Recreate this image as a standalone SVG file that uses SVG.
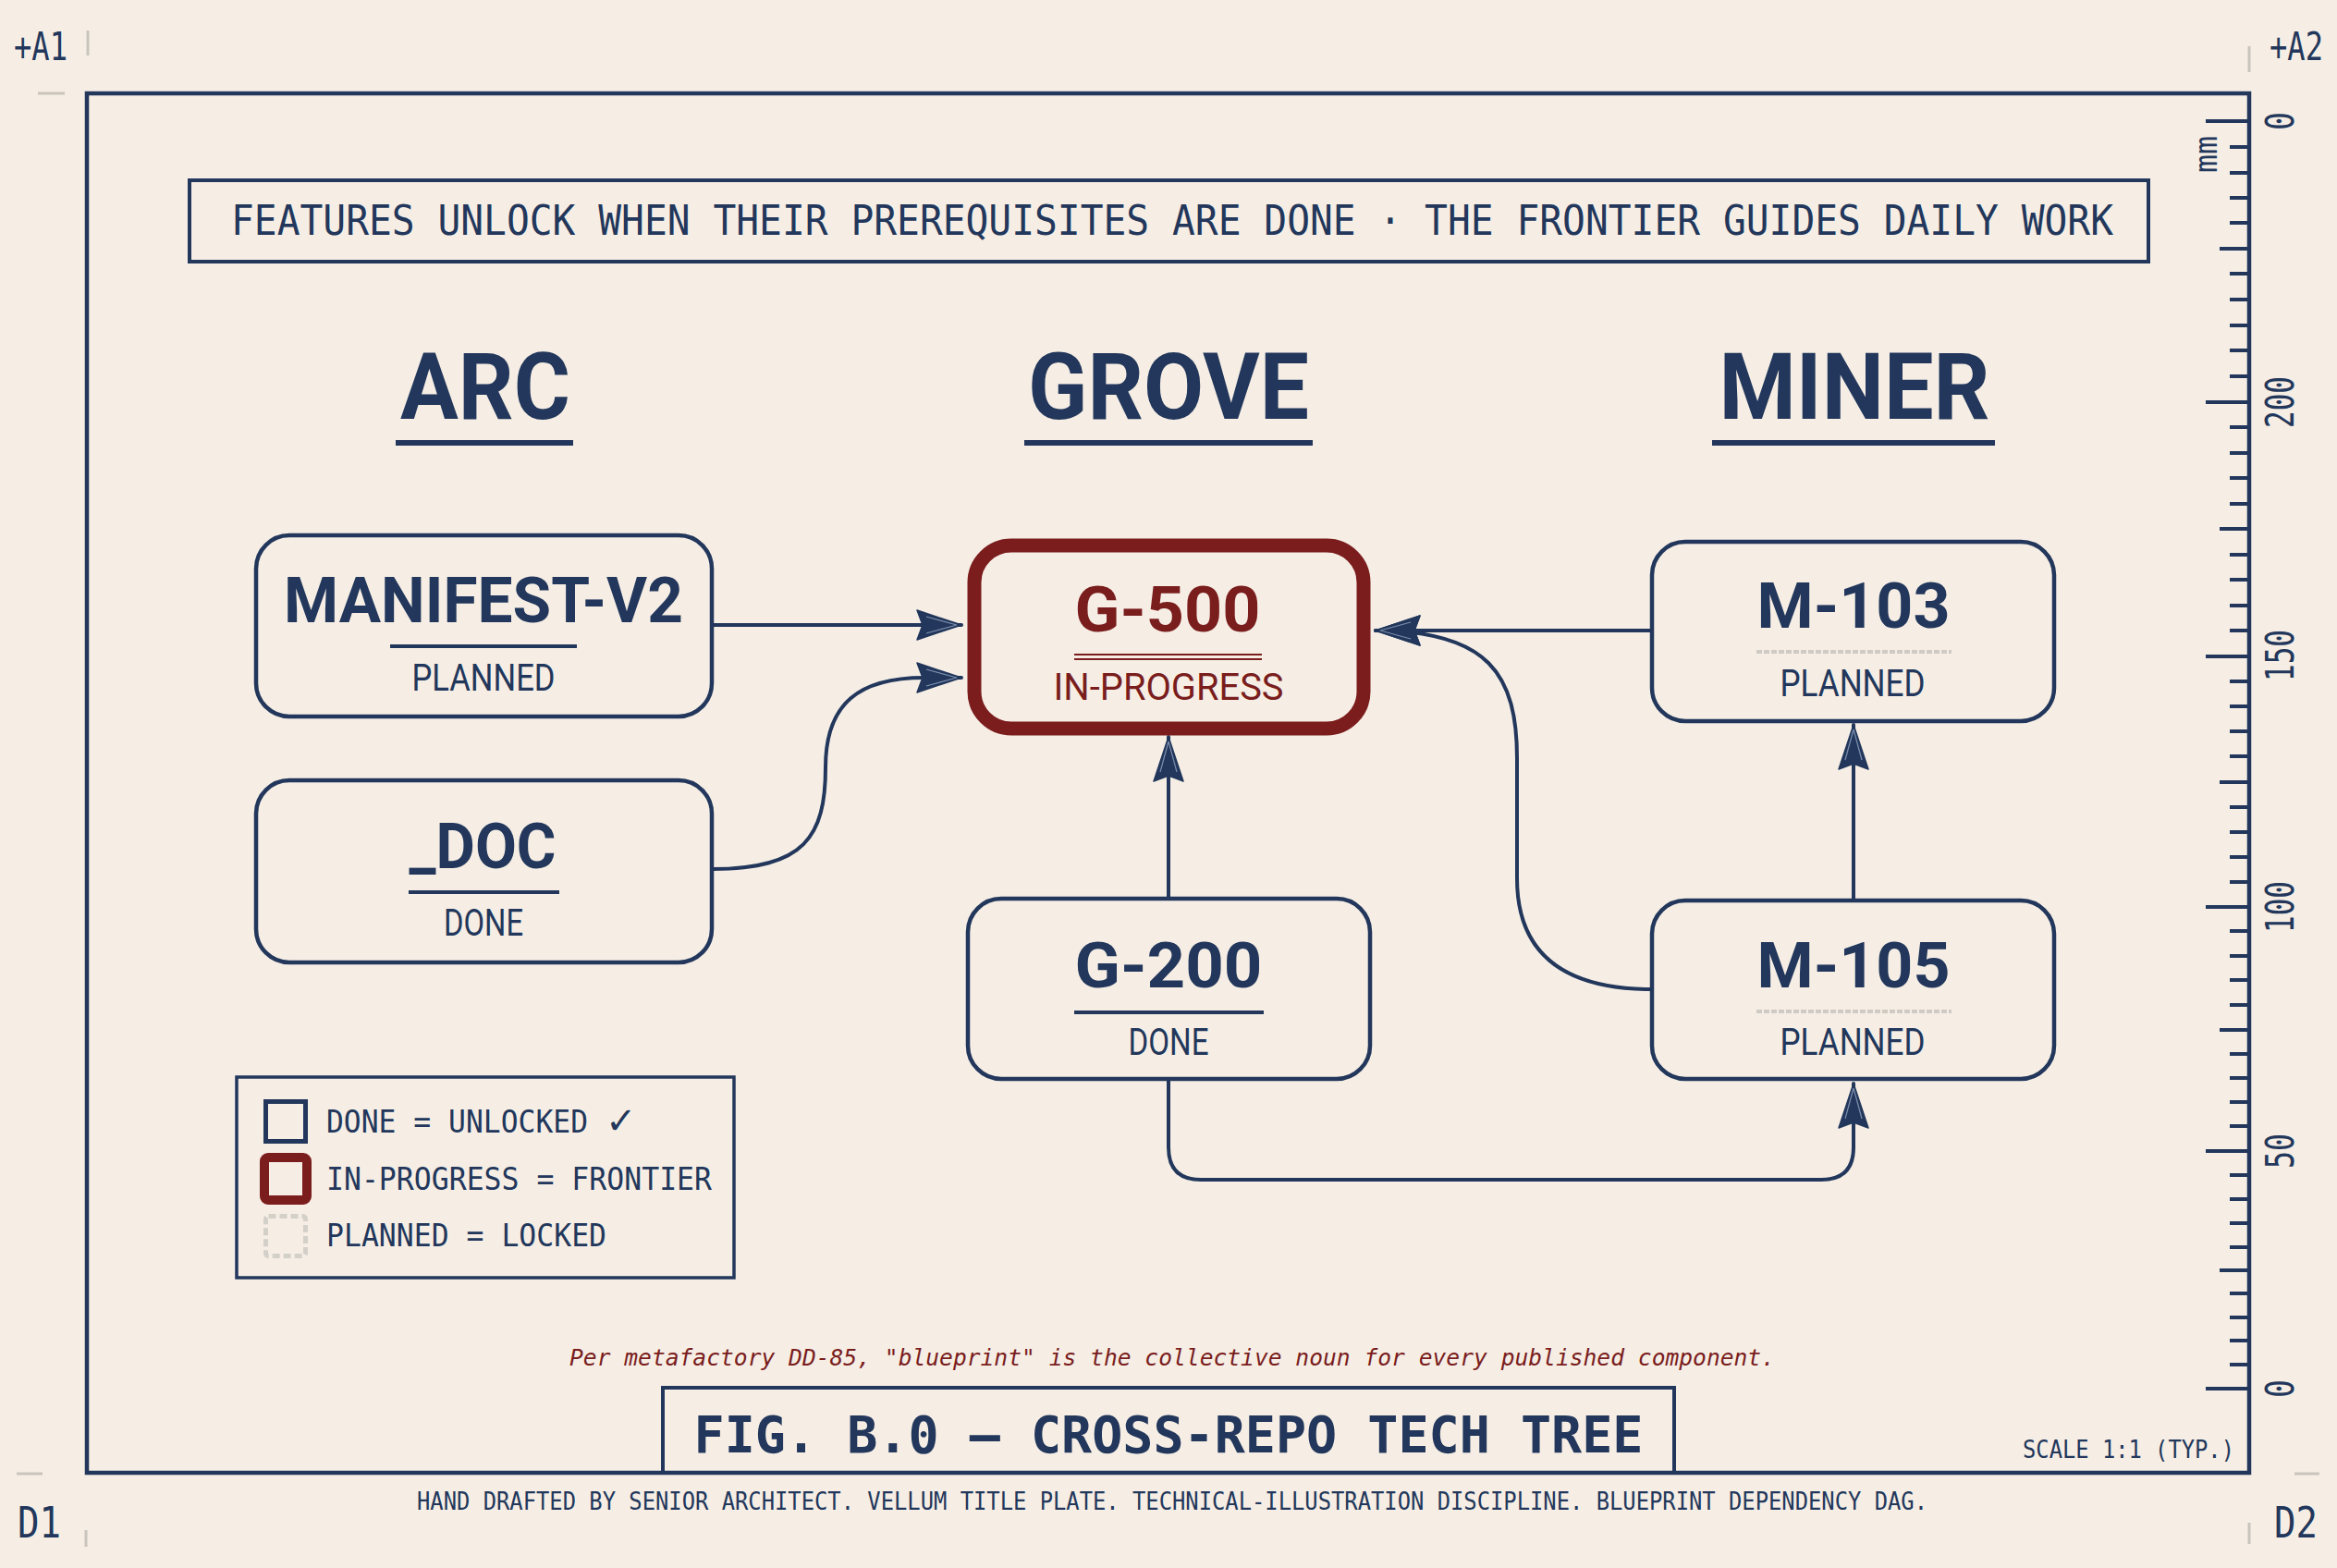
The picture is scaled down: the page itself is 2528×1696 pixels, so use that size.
<svg xmlns="http://www.w3.org/2000/svg" width="2528" height="1696" viewBox="0 0 2528 1696">
<defs>
<style>
.navy{fill:#22375b}
.red{fill:#7a1d1d}
.box{fill:none;stroke:#22375b;stroke-width:4.5}
.frontier{fill:none;stroke:#7b1d1d;stroke-width:15}
.mono{font-family:"DejaVu Sans Mono","Liberation Mono",monospace}
.cond{font-family:Roboto,"DejaVu Sans",sans-serif}
.title{font-family:Roboto,"DejaVu Sans",sans-serif;font-weight:700;fill:#22375b}
.sub{font-family:Roboto,"DejaVu Sans",sans-serif;font-weight:400;fill:#22375b}
.edge{fill:none;stroke:#22375b;stroke-width:4;stroke-linecap:round;stroke-linejoin:round}
.tick{stroke:#22375b;stroke-width:4}
.grey{stroke:#c9c4bd;stroke-width:3}
.rl{font-family:"DejaVu Sans Mono",monospace;font-size:42px;fill:#22375b}
</style>
<marker id="arr" viewBox="-52 -20 56 40" refX="0" refY="0" markerWidth="56" markerHeight="40" markerUnits="userSpaceOnUse" orient="auto">
<path d="M0,0 L-48,-16 L-42,0 L-48,16 Z" fill="#22375b" stroke="#22375b" stroke-width="1.5" stroke-linejoin="round"/>
<path d="M-5,0 L-38,-9 M-5,0 L-38,9" stroke="#7d8fae" stroke-width="1.2" fill="none"/>
</marker>
</defs>

<rect width="2528" height="1696" fill="#f6eee5"/>

<!-- corner marks -->
<g id="corners">
<text x="15" y="65" class="mono navy" font-size="42" textLength="58" lengthAdjust="spacingAndGlyphs">+A1</text>
<line x1="95" y1="33" x2="95" y2="60" class="grey"/>
<line x1="41" y1="101" x2="70" y2="101" class="grey"/>
<text x="2455" y="65" class="mono navy" font-size="42" textLength="58" lengthAdjust="spacingAndGlyphs">+A2</text>
<line x1="2433" y1="50" x2="2433" y2="78" class="grey"/>
<text x="19" y="1663" class="mono navy" font-size="46" textLength="47" lengthAdjust="spacingAndGlyphs">D1</text>
<line x1="18" y1="1594" x2="46" y2="1594" class="grey"/>
<line x1="93" y1="1655" x2="93" y2="1673" class="grey"/>
<text x="2460" y="1663" class="mono navy" font-size="46" textLength="47" lengthAdjust="spacingAndGlyphs">D2</text>
<line x1="2482" y1="1594" x2="2509" y2="1594" class="grey"/>
<line x1="2433" y1="1647" x2="2433" y2="1670" class="grey"/>
</g>

<!-- frame -->
<rect id="frame" x="94" y="101" width="2339" height="1492" fill="none" stroke="#22375b" stroke-width="4.5"/>

<!-- ruler -->
<g id="ruler">
<line x1="2386" y1="131" x2="2433" y2="131" class="tick"/>
<line x1="2412" y1="159" x2="2433" y2="159" class="tick"/>
<line x1="2412" y1="187" x2="2433" y2="187" class="tick"/>
<line x1="2412" y1="214" x2="2433" y2="214" class="tick"/>
<line x1="2412" y1="241" x2="2433" y2="241" class="tick"/>
<line x1="2401" y1="269" x2="2433" y2="269" class="tick"/>
<line x1="2412" y1="296" x2="2433" y2="296" class="tick"/>
<line x1="2412" y1="324" x2="2433" y2="324" class="tick"/>
<line x1="2412" y1="352" x2="2433" y2="352" class="tick"/>
<line x1="2412" y1="379" x2="2433" y2="379" class="tick"/>
<line x1="2412" y1="407" x2="2433" y2="407" class="tick"/>
<line x1="2386" y1="435" x2="2433" y2="435" class="tick"/>
<line x1="2412" y1="462" x2="2433" y2="462" class="tick"/>
<line x1="2412" y1="490" x2="2433" y2="490" class="tick"/>
<line x1="2412" y1="517" x2="2433" y2="517" class="tick"/>
<line x1="2412" y1="545" x2="2433" y2="545" class="tick"/>
<line x1="2401" y1="572" x2="2433" y2="572" class="tick"/>
<line x1="2412" y1="600" x2="2433" y2="600" class="tick"/>
<line x1="2412" y1="627" x2="2433" y2="627" class="tick"/>
<line x1="2412" y1="655" x2="2433" y2="655" class="tick"/>
<line x1="2412" y1="682" x2="2433" y2="682" class="tick"/>
<line x1="2386" y1="710" x2="2433" y2="710" class="tick"/>
<line x1="2412" y1="737" x2="2433" y2="737" class="tick"/>
<line x1="2412" y1="764" x2="2433" y2="764" class="tick"/>
<line x1="2412" y1="791" x2="2433" y2="791" class="tick"/>
<line x1="2412" y1="818" x2="2433" y2="818" class="tick"/>
<line x1="2401" y1="846" x2="2433" y2="846" class="tick"/>
<line x1="2412" y1="873" x2="2433" y2="873" class="tick"/>
<line x1="2412" y1="900" x2="2433" y2="900" class="tick"/>
<line x1="2412" y1="927" x2="2433" y2="927" class="tick"/>
<line x1="2412" y1="954" x2="2433" y2="954" class="tick"/>
<line x1="2386" y1="981" x2="2433" y2="981" class="tick"/>
<line x1="2412" y1="1007" x2="2433" y2="1007" class="tick"/>
<line x1="2412" y1="1034" x2="2433" y2="1034" class="tick"/>
<line x1="2412" y1="1060" x2="2433" y2="1060" class="tick"/>
<line x1="2412" y1="1087" x2="2433" y2="1087" class="tick"/>
<line x1="2401" y1="1114" x2="2433" y2="1114" class="tick"/>
<line x1="2412" y1="1140" x2="2433" y2="1140" class="tick"/>
<line x1="2412" y1="1166" x2="2433" y2="1166" class="tick"/>
<line x1="2412" y1="1192" x2="2433" y2="1192" class="tick"/>
<line x1="2412" y1="1218" x2="2433" y2="1218" class="tick"/>
<line x1="2386" y1="1245" x2="2433" y2="1245" class="tick"/>
<line x1="2412" y1="1271" x2="2433" y2="1271" class="tick"/>
<line x1="2412" y1="1297" x2="2433" y2="1297" class="tick"/>
<line x1="2412" y1="1323" x2="2433" y2="1323" class="tick"/>
<line x1="2412" y1="1349" x2="2433" y2="1349" class="tick"/>
<line x1="2401" y1="1374" x2="2433" y2="1374" class="tick"/>
<line x1="2412" y1="1399" x2="2433" y2="1399" class="tick"/>
<line x1="2412" y1="1425" x2="2433" y2="1425" class="tick"/>
<line x1="2412" y1="1450" x2="2433" y2="1450" class="tick"/>
<line x1="2412" y1="1476" x2="2433" y2="1476" class="tick"/>
<line x1="2386" y1="1502" x2="2433" y2="1502" class="tick"/>
<text transform="translate(2481,131) rotate(-90)" text-anchor="middle" class="rl" textLength="20" lengthAdjust="spacingAndGlyphs">0</text>
<text transform="translate(2481,435) rotate(-90)" text-anchor="middle" class="rl" textLength="56" lengthAdjust="spacingAndGlyphs">200</text>
<text transform="translate(2481,709) rotate(-90)" text-anchor="middle" class="rl" textLength="56" lengthAdjust="spacingAndGlyphs">150</text>
<text transform="translate(2481,981) rotate(-90)" text-anchor="middle" class="rl" textLength="56" lengthAdjust="spacingAndGlyphs">100</text>
<text transform="translate(2481,1245) rotate(-90)" text-anchor="middle" class="rl" textLength="38" lengthAdjust="spacingAndGlyphs">50</text>
<text transform="translate(2481,1502) rotate(-90)" text-anchor="middle" class="rl" textLength="20" lengthAdjust="spacingAndGlyphs">0</text>
<text transform="translate(2398,167) rotate(-90)" text-anchor="middle" class="mono navy" font-size="34" textLength="40" lengthAdjust="spacingAndGlyphs">mm</text>
</g>

<!-- header -->
<g id="header">
<rect x="205" y="195" width="2119" height="88" fill="none" stroke="#22375b" stroke-width="4"/>
<text x="1268" y="254" text-anchor="middle" class="mono navy" font-size="44" textLength="2036" lengthAdjust="spacingAndGlyphs">FEATURES UNLOCK WHEN THEIR PREREQUISITES ARE DONE · THE FRONTIER GUIDES DAILY WORK</text>
</g>

<!-- column headings -->
<g id="col-arc">
<text x="525" y="453" text-anchor="middle" class="title" font-size="101" textLength="184" lengthAdjust="spacingAndGlyphs">ARC</text>
<rect x="428" y="476" width="192" height="6" class="navy"/>
</g>
<g id="col-grove">
<text x="1264" y="453" text-anchor="middle" class="title" font-size="101" textLength="304" lengthAdjust="spacingAndGlyphs">GROVE</text>
<rect x="1108" y="476" width="312" height="6" class="navy"/>
</g>
<g id="col-miner">
<text x="2006" y="453" text-anchor="middle" class="title" font-size="101" textLength="293" lengthAdjust="spacingAndGlyphs">MINER</text>
<rect x="1852" y="476" width="306" height="6" class="navy"/>
</g>

<!-- connectors -->
<g id="connectors">
<path class="edge" d="M771,676 L1040,676" marker-end="url(#arr)"/>
<path class="edge" d="M771,940 C 870,940 893,905 893,830 C 893,760 930,733 1000,733 L1040,733" marker-end="url(#arr)"/>
<path class="edge" d="M1264,971 L1264,797" marker-end="url(#arr)"/>
<path class="edge" d="M1787,682 L1488,682" marker-end="url(#arr)"/>
<path class="edge" d="M1787,1070 C 1690,1070 1641,1030 1641,950 L1641,820 C 1641,730 1610,682 1488,682" marker-end="url(#arr)"/>
<path class="edge" d="M2005,973 L2005,784" marker-end="url(#arr)"/>
<path class="edge" d="M1264,1168 L1264,1241 Q1264,1276 1299,1276 L1970,1276 Q2005,1276 2005,1241 L2005,1172" marker-end="url(#arr)"/>
</g>

<!-- nodes -->
<g id="node-manifest-v2">
<rect x="277" y="579" width="493" height="196" rx="36" class="box"/>
<text x="523" y="673" text-anchor="middle" class="title" font-size="69" textLength="432" lengthAdjust="spacingAndGlyphs">MANIFEST-V2</text>
<rect x="422" y="697" width="202" height="4" class="navy"/>
<text x="523" y="747" text-anchor="middle" class="sub" font-size="40" textLength="155" lengthAdjust="spacingAndGlyphs">PLANNED</text>
</g>

<g id="node-doc">
<rect x="277" y="844" width="493" height="197" rx="36" class="box"/>
<text x="522" y="939" text-anchor="middle" class="title" font-size="69" textLength="159" lengthAdjust="spacingAndGlyphs">_DOC</text>
<rect x="442" y="963" width="163" height="4" class="navy"/>
<text x="523" y="1012" text-anchor="middle" class="sub" font-size="40" textLength="86" lengthAdjust="spacingAndGlyphs">DONE</text>
</g>

<g id="node-g500">
<rect x="1054" y="590" width="421" height="198" rx="40" class="frontier"/>
<text x="1263" y="683" text-anchor="middle" class="title" font-size="68" textLength="201" lengthAdjust="spacingAndGlyphs" style="fill:#7a1d1d">G-500</text>
<rect x="1162" y="707" width="203" height="2" class="red"/>
<rect x="1162" y="712" width="203" height="2" class="red"/>
<text x="1264" y="757" text-anchor="middle" class="sub" font-size="40" textLength="249" lengthAdjust="spacingAndGlyphs" style="fill:#7a1d1d">IN-PROGRESS</text>
</g>

<g id="node-g200">
<rect x="1047" y="972" width="435" height="195" rx="36" class="box"/>
<text x="1264" y="1068" text-anchor="middle" class="title" font-size="68" textLength="203" lengthAdjust="spacingAndGlyphs">G-200</text>
<rect x="1162" y="1093" width="205" height="4" class="navy"/>
<text x="1264" y="1141" text-anchor="middle" class="sub" font-size="40" textLength="87" lengthAdjust="spacingAndGlyphs">DONE</text>
</g>

<g id="node-m103">
<rect x="1787" y="586" width="435" height="194" rx="36" class="box"/>
<text x="2005" y="679" text-anchor="middle" class="title" font-size="68" textLength="209" lengthAdjust="spacingAndGlyphs">M-103</text>
<line x1="1900" y1="705" x2="2111" y2="705" stroke="#cfcac3" stroke-width="4" stroke-dasharray="6 2"/>
<text x="2004" y="753" text-anchor="middle" class="sub" font-size="40" textLength="157" lengthAdjust="spacingAndGlyphs">PLANNED</text>
</g>

<g id="node-m105">
<rect x="1787" y="974" width="435" height="193" rx="36" class="box"/>
<text x="2005" y="1068" text-anchor="middle" class="title" font-size="68" textLength="209" lengthAdjust="spacingAndGlyphs">M-105</text>
<line x1="1900" y1="1094" x2="2111" y2="1094" stroke="#cfcac3" stroke-width="4" stroke-dasharray="6 2"/>
<text x="2004" y="1141" text-anchor="middle" class="sub" font-size="40" textLength="157" lengthAdjust="spacingAndGlyphs">PLANNED</text>
</g>

<!-- legend -->
<g id="legend">
<rect x="256" y="1165" width="538" height="217" fill="none" stroke="#22375b" stroke-width="3.5"/>
<rect x="287.5" y="1191.5" width="43" height="43" fill="none" stroke="#22375b" stroke-width="5"/>
<text x="353" y="1225" class="mono navy" font-size="34" textLength="283" lengthAdjust="spacingAndGlyphs">DONE = UNLOCKED</text>
<text x="655" y="1226" class="navy" font-family="DejaVu Sans, sans-serif" font-size="40" font-weight="700">✓</text>
<rect x="286" y="1252" width="46" height="46" rx="4" fill="none" stroke="#7b1d1d" stroke-width="10"/>
<text x="353" y="1287" class="mono navy" font-size="34" textLength="417" lengthAdjust="spacingAndGlyphs">IN-PROGRESS = FRONTIER</text>
<rect x="287.5" y="1315.5" width="43" height="43" rx="3" fill="none" stroke="#d3cfc9" stroke-width="5" stroke-dasharray="8 4"/>
<text x="353" y="1348" class="mono navy" font-size="34" textLength="303" lengthAdjust="spacingAndGlyphs">PLANNED = LOCKED</text>
</g>

<!-- footnote and title -->
<g id="footnote">
<text x="1268" y="1477" text-anchor="middle" class="mono" font-size="25" font-style="italic" fill="#7a1d1d" textLength="1304" lengthAdjust="spacingAndGlyphs">Per metafactory DD-85, "blueprint" is the collective noun for every published component.</text>
</g>

<g id="title-plate">
<rect x="717" y="1501" width="1094" height="92" fill="none" stroke="#22375b" stroke-width="4"/>
<text x="1264" y="1571" text-anchor="middle" class="mono navy" font-size="55" font-weight="700" textLength="1027" lengthAdjust="spacingAndGlyphs">FIG. B.0 — CROSS-REPO TECH TREE</text>
</g>

<text x="2417" y="1577" text-anchor="end" class="mono navy" font-size="26" textLength="229" lengthAdjust="spacingAndGlyphs">SCALE 1:1 (TYP.)</text>

<text x="1268" y="1633" text-anchor="middle" class="mono navy" font-size="27" textLength="1634" lengthAdjust="spacingAndGlyphs">HAND DRAFTED BY SENIOR ARCHITECT. VELLUM TITLE PLATE. TECHNICAL-ILLUSTRATION DISCIPLINE. BLUEPRINT DEPENDENCY DAG.</text>
</svg>
